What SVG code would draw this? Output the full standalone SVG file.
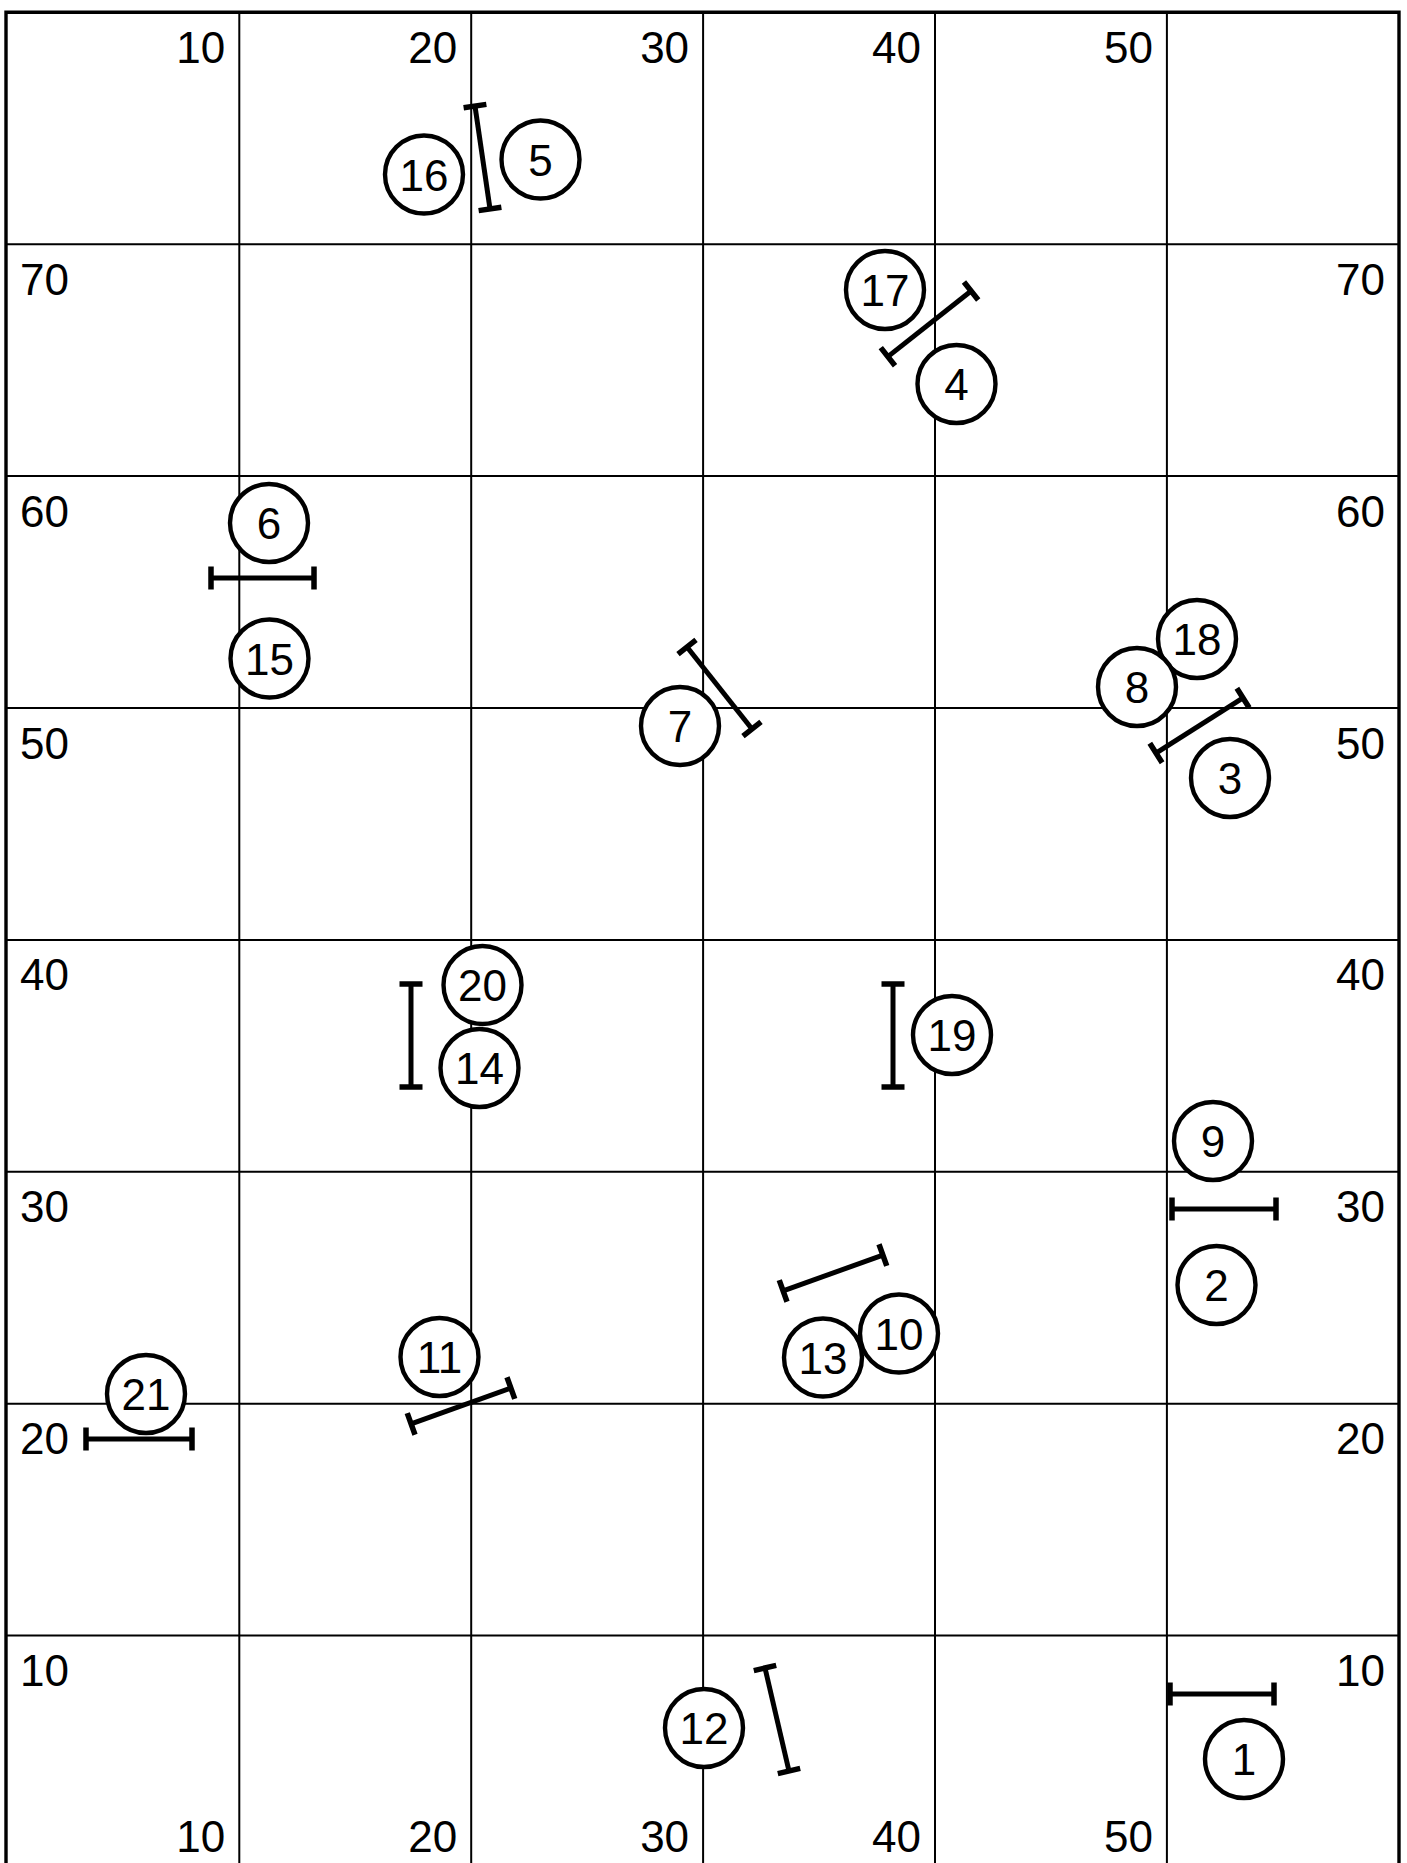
<svg xmlns="http://www.w3.org/2000/svg" width="1407" height="1863" viewBox="0 0 1407 1863">
<style>
.grid{stroke:#000;stroke-width:2;fill:none}
.frame{stroke:#000;stroke-width:3.4;fill:none}
.lbl{font-family:"Liberation Sans",Arial,sans-serif;font-size:44px;fill:#000}
.end{text-anchor:end}
.c{fill:#fff;stroke:#000;stroke-width:4.4}
.n{font-family:"Liberation Sans",Arial,sans-serif;font-size:44px;fill:#000;text-anchor:middle}
.ib{stroke:#000;fill:none}
.ib .bar{stroke-width:5}
.ib .cap{stroke-width:5.5}
</style>
<rect width="1407" height="1863" fill="#fff"/>
<g id="grid">
<path class="grid" d="M239.3 12V1863M471.2 12V1863M703.1 12V1863M935 12V1863M1166.9 12V1863"/>
<path class="grid" d="M6 244.2H1399M6 476.1H1399M6 708H1399M6 939.9H1399M6 1171.8H1399M6 1403.7H1399M6 1635.6H1399"/>
<path class="frame" d="M6 1863V12.3H1399V1863"/>
</g>
<g id="labels">
<text class="lbl end" x="225.3" y="63">10</text>
<text class="lbl end" x="457.2" y="63">20</text>
<text class="lbl end" x="689.1" y="63">30</text>
<text class="lbl end" x="921" y="63">40</text>
<text class="lbl end" x="1152.9" y="63">50</text>
<text class="lbl end" x="225.3" y="1852">10</text>
<text class="lbl end" x="457.2" y="1852">20</text>
<text class="lbl end" x="689.1" y="1852">30</text>
<text class="lbl end" x="921" y="1852">40</text>
<text class="lbl end" x="1152.9" y="1852">50</text>
<text class="lbl" x="20" y="294.7">70</text>
<text class="lbl" x="20" y="526.6">60</text>
<text class="lbl" x="20" y="758.5">50</text>
<text class="lbl" x="20" y="990.4">40</text>
<text class="lbl" x="20" y="1222.3">30</text>
<text class="lbl" x="20" y="1454.2">20</text>
<text class="lbl" x="20" y="1686.1">10</text>
<text class="lbl end" x="1385" y="294.7">70</text>
<text class="lbl end" x="1385" y="526.6">60</text>
<text class="lbl end" x="1385" y="758.5">50</text>
<text class="lbl end" x="1385" y="990.4">40</text>
<text class="lbl end" x="1385" y="1222.3">30</text>
<text class="lbl end" x="1385" y="1454.2">20</text>
<text class="lbl end" x="1385" y="1686.1">10</text>
</g>
<g id="connectors">
<g class="ib" transform="translate(482.5,157.5) rotate(81.7)"><path class="bar" d="M-52 0H52"/><path class="cap" d="M-52 -11.5V11.5M52 -11.5V11.5"/></g>
<g class="ib" transform="translate(929.5,323.8) rotate(-38.3)"><path class="bar" d="M-53 0H53"/><path class="cap" d="M-53 -11.5V11.5M53 -11.5V11.5"/></g>
<g class="ib" transform="translate(262.5,578)"><path class="bar" d="M-51.5 0H51.5"/><path class="cap" d="M-51.5 -11.5V11.5M51.5 -11.5V11.5"/></g>
<g class="ib" transform="translate(719.5,688) rotate(51.6)"><path class="bar" d="M-52.3 0H52.3"/><path class="cap" d="M-52.3 -11.5V11.5M52.3 -11.5V11.5"/></g>
<g class="ib" transform="translate(1199.5,725.5) rotate(-32.3)"><path class="bar" d="M-51.5 0H51.5"/><path class="cap" d="M-51.5 -11.5V11.5M51.5 -11.5V11.5"/></g>
<g class="ib" transform="translate(411,1035.5) rotate(90)"><path class="bar" d="M-51.5 0H51.5"/><path class="cap" d="M-51.5 -11.5V11.5M51.5 -11.5V11.5"/></g>
<g class="ib" transform="translate(893,1035.5) rotate(90)"><path class="bar" d="M-51.5 0H51.5"/><path class="cap" d="M-51.5 -11.5V11.5M51.5 -11.5V11.5"/></g>
<g class="ib" transform="translate(1224,1209)"><path class="bar" d="M-52 0H52"/><path class="cap" d="M-52 -11.5V11.5M52 -11.5V11.5"/></g>
<g class="ib" transform="translate(833,1273) rotate(-19.8)"><path class="bar" d="M-53 0H53"/><path class="cap" d="M-53 -11.5V11.5M53 -11.5V11.5"/></g>
<g class="ib" transform="translate(139,1439)"><path class="bar" d="M-53 0H53"/><path class="cap" d="M-53 -11.5V11.5M53 -11.5V11.5"/></g>
<g class="ib" transform="translate(461,1406) rotate(-19.8)"><path class="bar" d="M-53 0H53"/><path class="cap" d="M-53 -11.5V11.5M53 -11.5V11.5"/></g>
<g class="ib" transform="translate(777,1719.5) rotate(76.9)"><path class="bar" d="M-52.9 0H52.9"/><path class="cap" d="M-52.9 -11.5V11.5M52.9 -11.5V11.5"/></g>
<g class="ib" transform="translate(1222,1694)"><path class="bar" d="M-52 0H52"/><path class="cap" d="M-52 -11.5V11.5M52 -11.5V11.5"/></g>
</g>
<g id="n16"><circle class="c" cx="424" cy="174.5" r="39"/><text class="n" x="424" y="190.5">16</text></g>
<g id="n5"><circle class="c" cx="540.5" cy="159.5" r="39"/><text class="n" x="540.5" y="175.5">5</text></g>
<g id="n17"><circle class="c" cx="885" cy="290" r="39"/><text class="n" x="885" y="306">17</text></g>
<g id="n4"><circle class="c" cx="956.5" cy="384" r="39"/><text class="n" x="956.5" y="400">4</text></g>
<g id="n6"><circle class="c" cx="269" cy="523" r="39"/><text class="n" x="269" y="539">6</text></g>
<g id="n15"><circle class="c" cx="269.5" cy="658.5" r="39"/><text class="n" x="269.5" y="674.5">15</text></g>
<g id="n7"><circle class="c" cx="680" cy="726" r="39"/><text class="n" x="680" y="742">7</text></g>
<g id="n18"><circle class="c" cx="1197" cy="639" r="39"/><text class="n" x="1197" y="655">18</text></g>
<g id="n8"><circle class="c" cx="1137" cy="687" r="39"/><text class="n" x="1137" y="703">8</text></g>
<g id="n3"><circle class="c" cx="1230" cy="778" r="39"/><text class="n" x="1230" y="794">3</text></g>
<g id="n20"><circle class="c" cx="482.5" cy="985" r="39"/><text class="n" x="482.5" y="1001">20</text></g>
<g id="n14"><circle class="c" cx="479.5" cy="1068" r="39"/><text class="n" x="479.5" y="1084">14</text></g>
<g id="n19"><circle class="c" cx="952" cy="1035" r="39"/><text class="n" x="952" y="1051">19</text></g>
<g id="n9"><circle class="c" cx="1213" cy="1141" r="39"/><text class="n" x="1213" y="1157">9</text></g>
<g id="n2"><circle class="c" cx="1216.5" cy="1285" r="39"/><text class="n" x="1216.5" y="1301">2</text></g>
<g id="n13"><circle class="c" cx="823" cy="1357.5" r="39"/><text class="n" x="823" y="1373.5">13</text></g>
<g id="n10"><circle class="c" cx="899" cy="1333.5" r="39"/><text class="n" x="899" y="1349.5">10</text></g>
<g id="n21"><circle class="c" cx="146" cy="1394" r="39"/><text class="n" x="146" y="1410">21</text></g>
<g id="n11"><circle class="c" cx="439.5" cy="1357" r="39"/><text class="n" x="439.5" y="1373">11</text></g>
<g id="n12"><circle class="c" cx="704" cy="1728" r="39"/><text class="n" x="704" y="1744">12</text></g>
<g id="n1"><circle class="c" cx="1244" cy="1759" r="39"/><text class="n" x="1244" y="1775">1</text></g>
</svg>
